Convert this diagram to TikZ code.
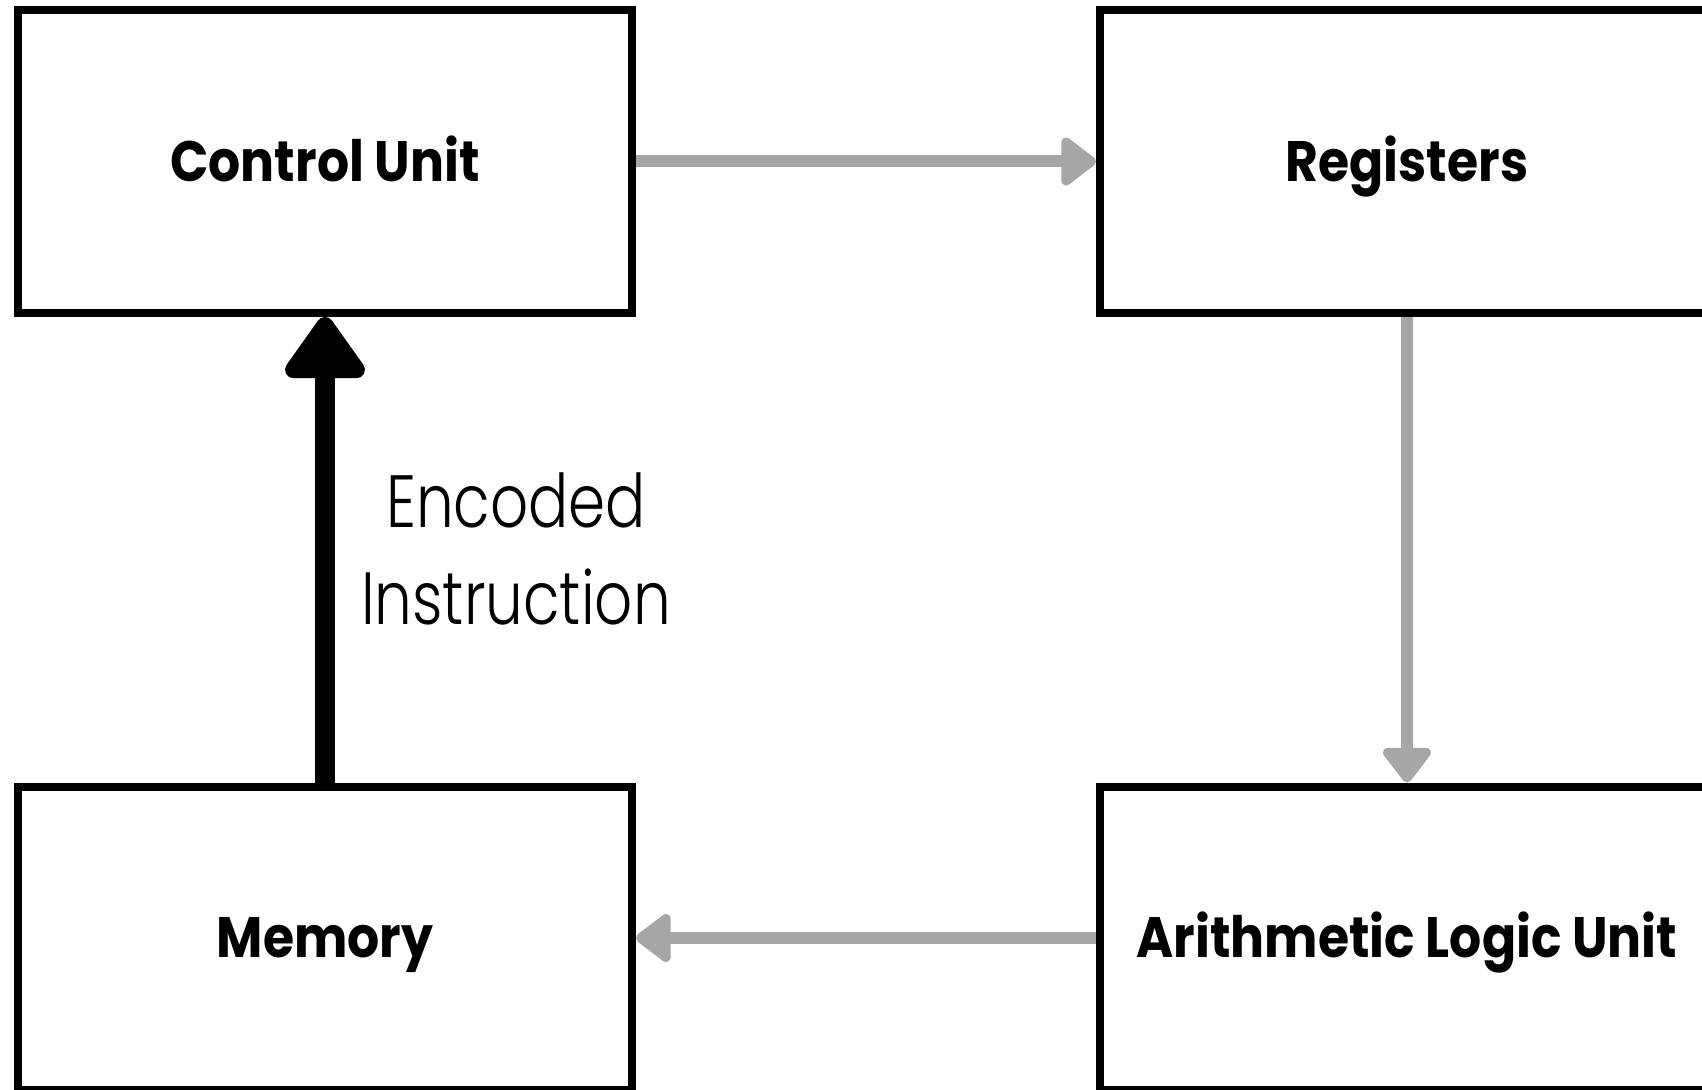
\documentclass[tikz,border=0pt]{standalone}
\usepackage{fontspec}
\setmainfont{Poppins}
\newfontfamily\titlefont{Poppins}[FakeStretch=0.885]
\newfontfamily\notefont{Poppins Light}[FakeStretch=0.805]
\usetikzlibrary{arrows.meta}
\definecolor{flowgray}{HTML}{A6A6A6}

\begin{document}
\begin{tikzpicture}[x=0.5pt,y=-0.5pt,
  unitbox/.style={draw, line width=4pt, minimum width=307pt, minimum height=151.5pt,
    inner sep=0pt, text height=19.9pt, text depth=0pt,
    font=\titlefont\bfseries\fontsize{28.5pt}{34pt}\selectfont},
  flow/.style={draw=flowgray, line width=6pt, color=flowgray,
    -{Triangle[length=19pt,width=27.5pt,round]}},
  fetch/.style={draw=black, line width=10pt,
    -{Triangle[length=34pt,width=45.5pt,round]}},
  note/.style={align=center, inner sep=0pt,
    font=\notefont\fontsize{37pt}{48.5pt}\selectfont}]
  \useasboundingbox (0,0) rectangle (1702,1090);

  % the four units of the processor
  \node[unitbox] (cu)  at (325,161.5)  {Control Unit};
  \node[unitbox] (reg) at (1407,161.5) {Registers};
  \node[unitbox] (mem) at (325,938)    {Memory};
  \node[unitbox] (alu) at (1407,938)   {Arithmetic Logic Unit};

  % data flow around the cycle
  \draw[flow] (cu.east) -- (reg.west);
  \draw[flow] (reg.south) -- (alu.north);
  \draw[flow] (alu.west) -- (mem.east);

  % instruction fetch from memory
  \draw[fetch] (mem.north) -- (cu.south);
  \node[note] (enc) at (516,548.5) {Encoded\\Instruction};
\end{tikzpicture}
\end{document}
